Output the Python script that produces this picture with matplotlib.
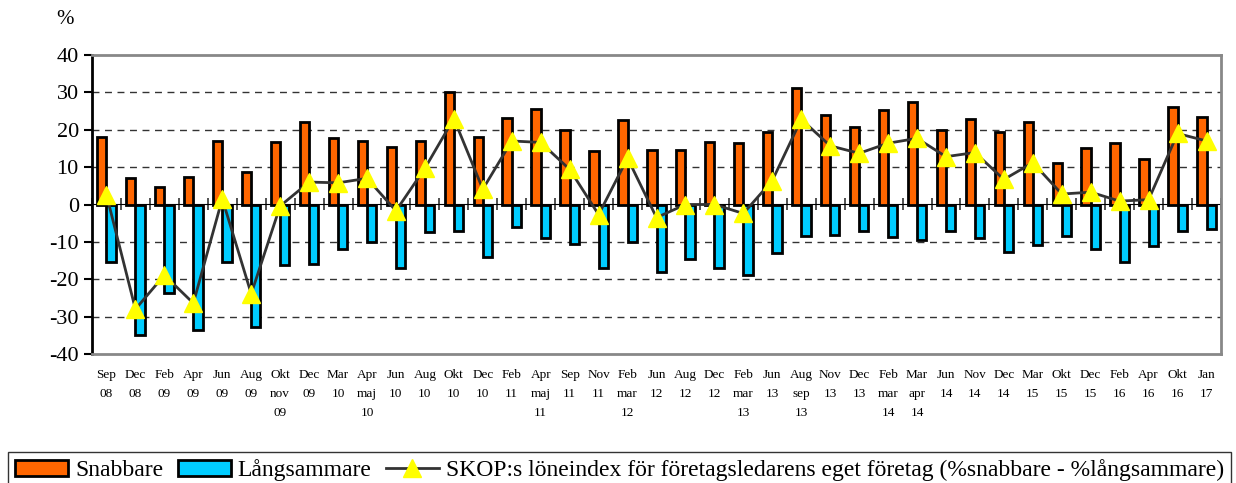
import numpy as np
import matplotlib
matplotlib.use("Agg")
import matplotlib.pyplot as plt

plt.rcParams['font.family'] = ['Liberation Serif', 'DejaVu Serif']
plt.rcParams['axes.unicode_minus'] = False

# kategorier (mättillfällen)
labels = ["Sep\n08", "Dec\n08", "Feb\n09", "Apr\n09", "Jun\n09", "Aug\n09", "Okt\nnov\n09",
          "Dec\n09", "Mar\n10", "Apr\nmaj\n10", "Jun\n10", "Aug\n10", "Okt\n10", "Dec\n10",
          "Feb\n11", "Apr\nmaj\n11", "Sep\n11", "Nov\n11", "Feb\nmar\n12", "Jun\n12", "Aug\n12",
          "Dec\n12", "Feb\nmar\n13", "Jun\n13", "Aug\nsep\n13", "Nov\n13", "Dec\n13",
          "Feb\nmar\n14", "Mar\napr\n14", "Jun\n14", "Nov\n14", "Dec\n14", "Mar\n15", "Okt\n15",
          "Dec\n15", "Feb\n16", "Apr\n16", "Okt\n16", "Jan\n17"]

snabbare = [18, 7, 4.7, 7.3, 17, 8.8, 16.7, 22, 17.8, 17, 15.3, 17, 30, 18.1, 23.1, 25.6,
            19.9, 14.4, 22.5, 14.5, 14.6, 16.8, 16.5, 19.3, 31.3, 23.9, 20.8, 25.2, 27.3,
            20, 22.8, 19.4, 22.1, 11.1, 15.1, 16.4, 12.3, 26, 23.5]
langsammare = [-15.4, -35, -23.6, -33.7, -15.5, -32.7, -16.3, -16, -12, -10, -17, -7.3, -7.1,
               -14, -6.1, -9, -10.5, -17.1, -10.1, -18, -14.6, -16.9, -18.9, -12.9, -8.5,
               -8.2, -7.1, -8.8, -9.6, -7.2, -8.9, -12.7, -10.9, -8.3, -11.8, -15.5, -11, -7, -6.5]
index = [2.6, -28, -18.9, -26.4, 1.5, -23.9, -0.4, 6, 5.8, 7, -1.7, 9.7, 23, 4.1, 17, 16.6,
         9.4, -2.7, 12.4, -3.5, 0, 0, -2.4, 6.4, 22.8, 15.7, 13.7, 16.4, 17.7, 12.8, 13.9,
         6.7, 11.2, 2.8, 3.3, 0.9, 1.3, 19, 17]

x = np.arange(len(labels))
w = 0.32

fig = plt.figure(figsize=(12.36, 4.83), dpi=100)
ax = fig.add_axes([92 / 1236, 1 - 354 / 483, (1221 - 92) / 1236, (354 - 55) / 483])

for yv in [30, 20, 10, -10, -20, -30]:
    ax.axhline(yv, color='#333333', lw=1, ls=(0, (5, 4)), zorder=1)

b1 = ax.bar(x, snabbare, width=-w, align='edge', color='#FF6600', edgecolor='black', lw=2,
            zorder=3, label='Snabbare')
b2 = ax.bar(x, langsammare, width=w, align='edge', color='#00CCFF', edgecolor='black', lw=2,
            zorder=3, label='Långsammare')
ln, = ax.plot(x, index, color='#333333', lw=2, marker='^', markersize=13,
              markerfacecolor='#FFFF00', markeredgecolor='#FFFF00', zorder=5,
              label='SKOP:s löneindex för företagsledarens eget företag (%snabbare - %långsammare)')

ax.set_xlim(-0.5, len(labels) - 0.5)
ax.set_ylim(-40, 40)
ax.set_yticks(range(-40, 41, 10))
ax.tick_params(axis='y', labelsize=16, length=6, width=1.5, direction='out')
ax.set_xticks(x)
ax.set_xticklabels(labels, fontsize=9.5, linespacing=1.75, va='top')
ax.tick_params(axis='x', length=0, pad=11)

ax.spines['left'].set_color('black')
ax.spines['left'].set_linewidth(2)
for s in ['top', 'right', 'bottom']:
    ax.spines[s].set_color('#888888')
    ax.spines[s].set_linewidth(2)

# nollinje med streck mellan kategorierna
zero = ax.secondary_xaxis(0.5)
zero.set_xticks(np.arange(len(labels) + 1) - 0.5)
zero.set_xticklabels([])
zero.tick_params(axis='x', direction='inout', length=9, width=1.2, color='#333333')
zero.spines['bottom'].set_color('#333333')
zero.spines['bottom'].set_linewidth(1.5)

fig.text(65 / 1236, 1 - 20 / 483, '%', fontsize=15, ha='center', va='center')

leg = fig.legend(handles=[b1, b2, ln], loc='upper left',
                 bbox_to_anchor=(8 / 1236, 1 - 452 / 483), ncol=3,
                 fontsize=17, frameon=True, fancybox=False, borderaxespad=0,
                 handlelength=2.25, handletextpad=0.3, columnspacing=0.6, borderpad=0.3)
leg.get_frame().set_edgecolor('black')
leg.get_frame().set_linewidth(1)

fig.savefig('out.png', dpi=100)
